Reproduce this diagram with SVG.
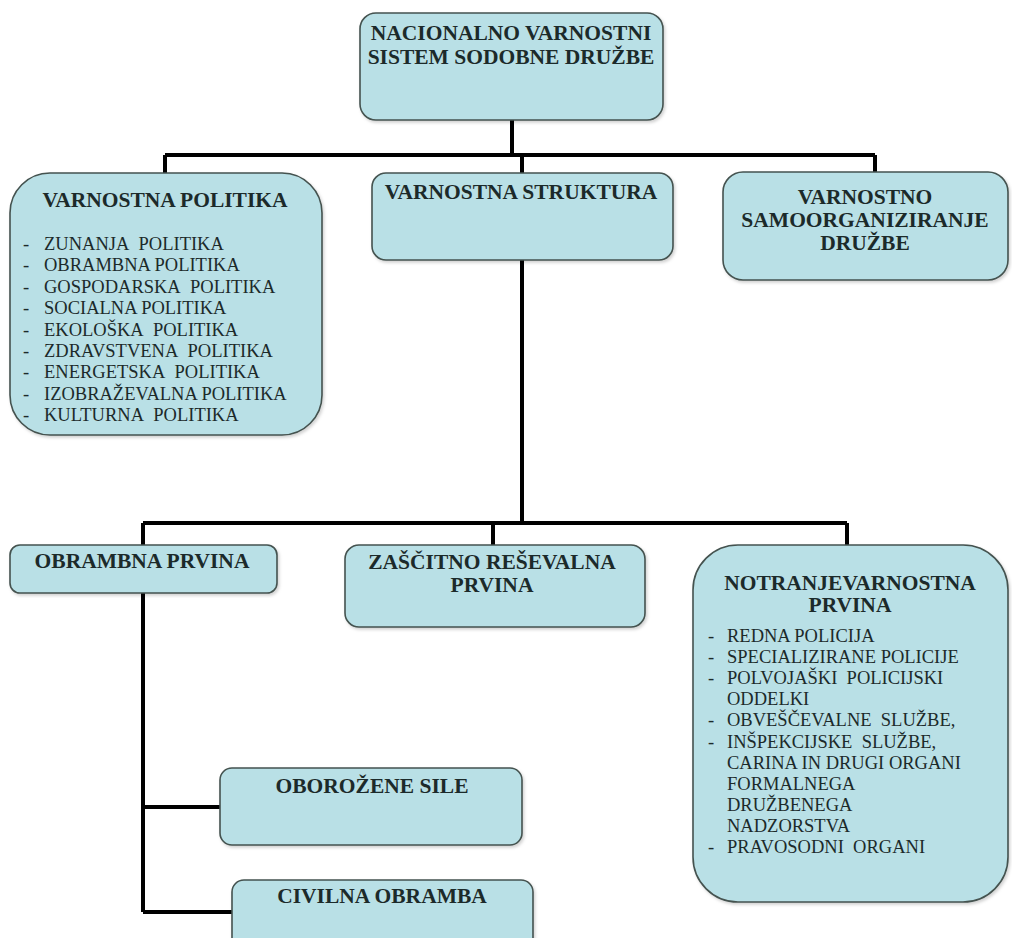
<svg xmlns="http://www.w3.org/2000/svg" width="1012" height="938" viewBox="0 0 1012 938">
<defs>
<filter id="sh" x="-5%" y="-5%" width="112%" height="115%">
<feDropShadow dx="1.5" dy="2" stdDeviation="1.5" flood-color="#000" flood-opacity="0.18"/>
</filter>
</defs>
<style>
.box{fill:#b9e0e6;stroke:#44524f;stroke-width:1.6;filter:url(#sh)}
.t{font-family:"Liberation Serif","Times New Roman",serif;font-weight:bold;font-size:21.5px;fill:#1c2a2a;text-anchor:middle}
.l{font-family:"Liberation Serif","Times New Roman",serif;font-size:18.5px;fill:#1c2a2a}
.c{fill:none;stroke:#000;stroke-width:4}
</style>
<rect width="1012" height="938" fill="#fff"/>
<g id="connectors">
<path class="c" d="M512 120V155M165 155H875M165 155V173M522 155V173M875 155V172"/>
<path class="c" d="M522 260V523M143 523H847M143 523V545M493 523V545M847 523V545"/>
<path class="c" d="M143 593V912M143 807H220M143 912H232"/>
</g>
<g id="n-root">
<rect class="box" x="360" y="13" width="303" height="107" rx="16"/>
<text class="t" x="511" y="40">NACIONALNO VARNOSTNI</text>
<text class="t" x="511" y="64">SISTEM SODOBNE DRUŽBE</text>
</g>
<g id="n-politika">
<rect class="box" x="10" y="173" width="312" height="262" rx="40"/>
<text class="t" x="165" y="207">VARNOSTNA POLITIKA</text>
<g class="l">
<text x="23" y="250">-</text><text x="44" y="250">ZUNANJA&#160; POLITIKA</text>
<text x="23" y="271.4">-</text><text x="44" y="271.4">OBRAMBNA POLITIKA</text>
<text x="23" y="292.8">-</text><text x="44" y="292.8">GOSPODARSKA&#160; POLITIKA</text>
<text x="23" y="314.2">-</text><text x="44" y="314.2">SOCIALNA POLITIKA</text>
<text x="23" y="335.6">-</text><text x="44" y="335.6">EKOLOŠKA&#160; POLITIKA</text>
<text x="23" y="357">-</text><text x="44" y="357">ZDRAVSTVENA&#160; POLITIKA</text>
<text x="23" y="378.4">-</text><text x="44" y="378.4">ENERGETSKA&#160; POLITIKA</text>
<text x="23" y="399.8">-</text><text x="44" y="399.8">IZOBRAŽEVALNA POLITIKA</text>
<text x="23" y="421.2">-</text><text x="44" y="421.2">KULTURNA&#160; POLITIKA</text>
</g>
</g>
<g id="n-struktura">
<rect class="box" x="372" y="173" width="301" height="87" rx="14"/>
<text class="t" x="521" y="199">VARNOSTNA STRUKTURA</text>
</g>
<g id="n-samo">
<rect class="box" x="723" y="172" width="285" height="108" rx="20"/>
<text class="t" x="865" y="204">VARNOSTNO</text>
<text class="t" x="865" y="227">SAMOORGANIZIRANJE</text>
<text class="t" x="865" y="250">DRUŽBE</text>
</g>
<g id="n-obrambna">
<rect class="box" x="10" y="545" width="267" height="48" rx="10"/>
<text class="t" x="142" y="568">OBRAMBNA PRVINA</text>
</g>
<g id="n-zascitno">
<rect class="box" x="345" y="545" width="300" height="82" rx="14"/>
<text class="t" x="492" y="569">ZAŠČITNO REŠEVALNA</text>
<text class="t" x="492" y="592">PRVINA</text>
</g>
<g id="n-notranje">
<rect class="box" x="693" y="545" width="315" height="357" rx="45"/>
<text class="t" x="850" y="590">NOTRANJEVARNOSTNA</text>
<text class="t" x="850" y="612">PRVINA</text>
<g class="l">
<text x="708" y="642">-</text><text x="727" y="642">REDNA POLICIJA</text>
<text x="708" y="663.1">-</text><text x="727" y="663.1">SPECIALIZIRANE POLICIJE</text>
<text x="708" y="684.2">-</text><text x="727" y="684.2">POLVOJAŠKI&#160; POLICIJSKI</text>
<text x="727" y="705.3">ODDELKI</text>
<text x="708" y="726.4">-</text><text x="727" y="726.4">OBVEŠČEVALNE&#160; SLUŽBE,</text>
<text x="708" y="747.5">-</text><text x="727" y="747.5">INŠPEKCIJSKE&#160; SLUŽBE,</text>
<text x="727" y="768.6">CARINA IN DRUGI ORGANI</text>
<text x="727" y="789.7">FORMALNEGA</text>
<text x="727" y="810.8">DRUŽBENEGA</text>
<text x="727" y="831.9">NADZORSTVA</text>
<text x="708" y="853">-</text><text x="727" y="853">PRAVOSODNI&#160; ORGANI</text>
</g>
</g>
<g id="n-oborozene">
<rect class="box" x="220" y="768" width="302" height="77" rx="12"/>
<text class="t" x="372" y="793">OBOROŽENE SILE</text>
</g>
<g id="n-civilna">
<rect class="box" x="232" y="880" width="301" height="70" rx="12"/>
<text class="t" x="382" y="903">CIVILNA OBRAMBA</text>
</g>
</svg>
